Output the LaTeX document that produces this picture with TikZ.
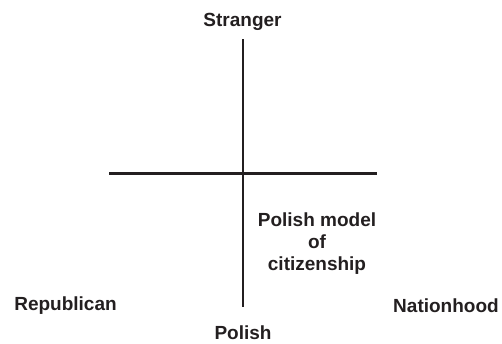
\documentclass[tikz,border=0pt]{standalone}
\usepackage{fontspec}
\setmainfont{Liberation Sans}
\definecolor{ink}{HTML}{231F20}
\begin{document}
\begin{tikzpicture}[x=1pt,y=-1pt,
  lbl/.style={font=\bfseries\fontsize{19}{22}\selectfont, text=ink, inner sep=0pt, anchor=base},
  axis/.style={draw=ink, line width=2.6pt}]
\useasboundingbox (0,0) rectangle (502,343);
\coordinate (top) at (243,39);
\coordinate (bot) at (243,307);
\coordinate (left) at (109,173.5);
\coordinate (right) at (377,173.5);
\draw[axis] (top) -- (bot);
\draw[axis] (left) -- (right);
\node[lbl] (stranger) at (242.5,26.5) {Stranger};
\node[lbl] (republican) at (65.5,310) {Republican};
\node[lbl] (nationhood) at (446,312) {Nationhood};
\node[lbl] (polish) at (243,339) {Polish};
\node[lbl, align=center, anchor=north] (model) at (317,213) {Polish model\\of\\citizenship};
\end{tikzpicture}
\end{document}
